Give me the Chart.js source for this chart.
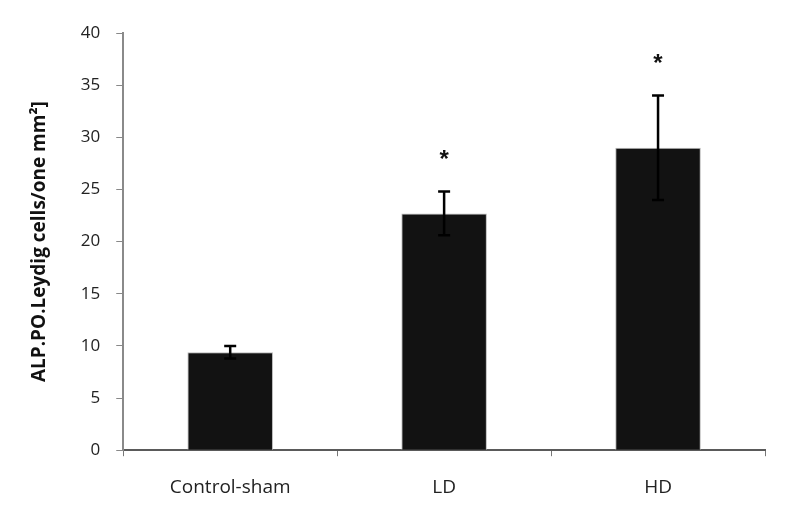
<!DOCTYPE html>
<html>
<head>
<meta charset="utf-8">
<script src="https://cdn.jsdelivr.net/npm/chart.js@4/dist/chart.umd.min.js"></script>
<style>
  html, body { margin: 0; padding: 0; background: #fff; }
  #wrap { width: 788px; height: 514px; }
</style>
</head>
<body>
<div id="wrap"><canvas id="alpChart" width="788" height="514"></canvas></div>
<script>
const groups = ["Control-sham", "LD", "HD"];
const means = [9.4, 22.7, 29.0];
const errors = [0.6, 2.1, 5.0];
const signif = ["", "*", "*"];
const yTicks = [0, 5, 10, 15, 20, 25, 30, 35, 40];

// error bars + asterisks drawn with the chart's own scales
const errorBarPlugin = {
    id: 'errorBars',
    afterDatasetsDraw(chart) {
        const c = chart.ctx;
        const x = chart.scales.x;
        const y = chart.scales.y;
        c.save();
        means.forEach(function(m, i) {
            const px = x.getPixelForValue(i);
            const top = y.getPixelForValue(m + errors[i]);
            const bot = y.getPixelForValue(m - errors[i]);
            c.strokeStyle = '#000';
            c.lineWidth = 2.5;
            c.beginPath();
            c.moveTo(px, top);
            c.lineTo(px, bot);
            c.moveTo(px - 6, top);
            c.lineTo(px + 6, top);
            c.moveTo(px - 6, bot);
            c.lineTo(px + 6, bot);
            c.stroke();
            if (signif[i]) {
                c.fillStyle = '#111';
                c.font = 'bold 24px "Liberation Sans", sans-serif';
                c.textAlign = 'center';
                c.textBaseline = 'middle';
                c.fillText(signif[i], px, top - 31);
            }
        });
        c.restore();
    }
};

document.addEventListener("DOMContentLoaded", function() {
    const ctx = document.getElementById('alpChart').getContext('2d');
    new Chart(ctx, {
        type: 'bar',
        data: {
            labels: groups,
            datasets: [{
                data: means,
                backgroundColor: '#121212',
                borderColor: '#bbbbbb',
                borderWidth: 1,
                barPercentage: 0.4,
                categoryPercentage: 1.0
            }]
        },
        options: {
            responsive: false,
            animation: false,
            layout: { padding: { left: 28, right: 23, top: 33, bottom: -5 } },
            plugins: {
                legend: { display: false },
                tooltip: { enabled: false }
            },
            scales: {
                x: {
                    grid: {
                        display: true,
                        drawOnChartArea: false,
                        offset: true,
                        tickLength: 6,
                        color: '#777'
                    },
                    border: { color: '#5a5a5a', width: 2 },
                    ticks: {
                        color: '#222',
                        padding: 20,
                        font: { family: '"Open Sans", sans-serif', size: 19 }
                    }
                },
                y: {
                    min: 0,
                    max: 40,
                    afterBuildTicks: function(axis) {
                        axis.ticks = yTicks.map(function(v) { return { value: v }; });
                    },
                    grid: {
                        display: true,
                        drawOnChartArea: false,
                        tickLength: 7,
                        color: '#888'
                    },
                    border: { color: '#8a8a8a', width: 2 },
                    ticks: {
                        color: '#222',
                        padding: 16,
                        font: { family: '"Open Sans", sans-serif', size: 17 }
                    },
                    title: {
                        display: true,
                        text: 'ALP.PO.Leydig cells/one mm²]',
                        color: '#111',
                        padding: { top: 0, bottom: 14 },
                        font: { family: '"Open Sans", sans-serif', size: 19, weight: 'bold' }
                    }
                }
            }
        },
        plugins: [errorBarPlugin]
    });
});
</script>
</body>
</html>
